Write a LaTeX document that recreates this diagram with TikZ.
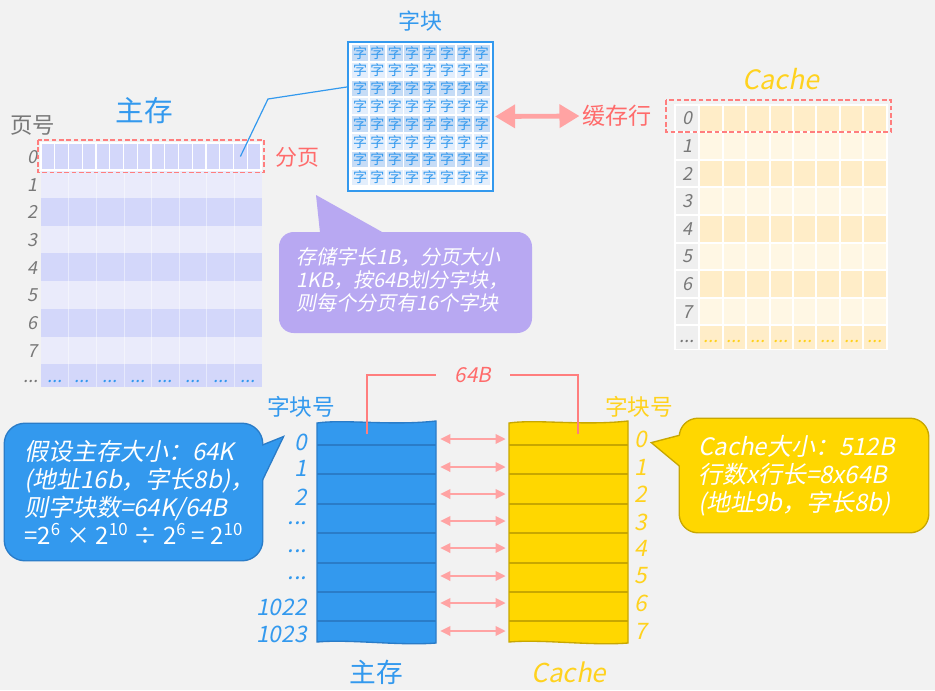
\documentclass[tikz,border=0pt]{standalone}
\usepackage{fontspec}
\setmainfont{Noto Sans CJK SC}
\newfontfamily\zhsl[FakeSlant=0.2]{Noto Sans CJK SC}
\usetikzlibrary{arrows.meta}
\definecolor{bg}{HTML}{F2F2F2}
\definecolor{mblue}{HTML}{3399EE}
\definecolor{mblueline}{HTML}{2A7CC8}
\definecolor{cgold}{HTML}{FFD700}
\definecolor{cgoldline}{HTML}{C8A700}
\definecolor{ctext}{HTML}{FFD21E}
\definecolor{hl}{HTML}{FF6B6B}
\definecolor{hlline}{HTML}{FF7E7E}
\definecolor{pinkarrow}{HTML}{FFA3A3}
\definecolor{numgray}{HTML}{787878}
\definecolor{pagedark}{HTML}{D3D7FA}
\definecolor{pagelight}{HTML}{EAEBFB}
\definecolor{linedark}{HTML}{FFEDC8}
\definecolor{linelight}{HTML}{FFF7E4}
\definecolor{labelgray}{HTML}{EFEFEF}
\definecolor{worddark}{HTML}{C6DCF6}
\definecolor{wordlight}{HTML}{E3EEFC}
\definecolor{notepurple}{HTML}{B8A8F2}
\newcommand\tridot{...}
\tikzset{heading/.style={inner sep=0pt, font=\fontsize{16.5}{16.5}\selectfont}}
\tikzset{idx/.style={inner sep=0pt, text=numgray, font=\zhsl\fontsize{13.5}{13.5}\selectfont}}
\tikzset{bigidx/.style={inner sep=0pt, font=\zhsl\fontsize{17}{17}\selectfont}}
\tikzset{pcell/.style={draw=white, line width=1.1pt, fill=pagedark, minimum width=10.3pt, minimum height=20.25pt, inner sep=0pt}}
\tikzset{wcell/.style={minimum width=11.6pt, minimum height=11.8pt, inner sep=0pt, text=mblue, font=\fontsize{10.5}{10.5}\selectfont}}
\tikzset{slot/.style={minimum width=89.25pt, minimum height=0pt, inner sep=0pt}}
\tikzset{pair/.style={pinkarrow, line width=1.7pt, arrows={Triangle[length=7.5pt,width=7pt]-Triangle[length=7.5pt,width=7pt]}, shorten <=3pt, shorten >=2.3pt}}
\tikzset{bigpair/.style={pinkarrow, line width=3.6pt, arrows={Triangle[length=15pt,width=17pt]-Triangle[length=15pt,width=17pt]}, shorten <=1pt, shorten >=2pt}}
\tikzset{frame/.style={hlline, line width=1.1pt, dash pattern=on 3.5pt off 2pt}}
\tikzset{bracket/.style={hlline, line width=1.1pt}}
\tikzset{link/.style={mblue, line width=0.9pt}}
\tikzset{note/.style={text=white, align=left, inner sep=0pt, font=\zhsl\fontsize{18}{21}\selectfont}}

\begin{document}
\begin{tikzpicture}[x=0.75pt, y=-0.75pt]
    \useasboundingbox (0,0) rectangle (935,690);
    \fill[bg] (0,0) rectangle (935,690);

    \foreach \rw in {1,...,8} {
        \ifodd\rw\def\rc{pagelight}\else\def\rc{pagedark}\fi
        \pgfmathsetmacro\ya{142.6+27.7*\rw}
        \pgfmathsetmacro\yb{min(142.6+27.7*(\rw+1),387)}
        \fill[\rc] (41,\ya) rectangle (262,\yb);
    }
    \foreach \c in {1,...,7}
        \draw[white, opacity=0.45, line width=0.5pt] (41+27.625*\c,170.3) -- (41+27.625*\c,387);
    \foreach \c in {0,...,15}
        \node[pcell] (p\c) at (41+13.75*\c+6.875,156.5) {};
    \foreach \rw in {0,...,7}
        \node[idx, anchor=east] (pn\rw) at (38,157+27.7*\rw) {\rw};
    \node[idx, anchor=east] (pndots) at (39,381) {\tridot};
    \foreach \c in {0,...,7}
        \node[idx, text=mblue] (pd\c) at (54.8+27.625*\c,381) {\tridot};
    \draw[frame] (38,140) rectangle (264,172.5);

    \node[heading, text=numgray, font=\fontsize{16.8}{16.8}\selectfont] (pagetag) at (33,125) {页号};
    \node[heading, text=mblue, font=\fontsize{21.5}{21.5}\selectfont] (mtitle) at (144,111) {主存};
    \node[heading, text=hl] (fenye) at (297,157) {分页};

    \node[draw=mblue, line width=1.1pt, fill=white, minimum width=108.75pt, minimum height=111.75pt, inner sep=0pt] (blk) at (420.5,116.5) {};
    \foreach \i in {0,...,7} {
        \ifodd\i\def\wc{wordlight}\else\def\wc{worddark}\fi
        \foreach \j in {0,...,7}
            \node[wcell, fill=\wc] (w\i\j) at (360+17.4*\j,52.8+17.8*\i) {字};
    }
    \node[heading, text=mblue] (wtitle) at (420,21) {字块};
    \coordinate (bend) at (268,99);
    \draw[link] (p14.center) -- (bend) -- (blk.158);

    \node[heading, text=hl, font=\fontsize{17.3}{17.3}\selectfont] (hang) at (617,116) {缓存行};
    \draw[bigpair] (blk.east) -- (hang.west);

    \fill[white] (674,104) rectangle (888,350);
    \foreach \rw in {0,...,8} {
        \ifodd\rw\def\rc{linelight}\else\def\rc{linedark}\fi
        \pgfmathsetmacro\ya{104.5+27.6*\rw}
        \pgfmathsetmacro\yb{min(104.5+27.6*(\rw+1),349.5)}
        \fill[labelgray] (676,\ya+1) rectangle (698.3,\yb-1);
        \foreach \c in {0,...,7}
            \fill[\rc] (699.3+23.43*\c+1,\ya+1) rectangle (699.3+23.43*\c+22.43,\yb-1);
    }
    \foreach \rw in {0,...,7}
        \node[idx] (cn\rw) at (687,118.5+27.6*\rw) {\rw};
    \node[idx] (cndots) at (687,341) {\tridot};
    \foreach \c in {0,...,7}
        \node[idx, text=ctext] (cd\c) at (711+23.43*\c,341) {\tridot};
    \draw[frame] (666,100) rectangle (891,132);
    \node[heading, text=ctext, font=\zhsl\fontsize{20}{20}\selectfont] (ctitle) at (781,79) {Cache};

    \fill[notepurple, rounded corners=11pt] (279,232) rectangle (532,333);
    \fill[notepurple] (321,242) -- (316,195) -- (400,242) -- cycle;
    \node[note, anchor=west, font=\zhsl\fontsize{15}{17.5}\selectfont] (pnote) at (296,280) {存储字长1B，分页大小\\1KB，按64B划分字块，\\则每个分页有16个字块};

    \draw[mblueline, line width=2.2pt, rounded corners=15pt] (5,424) rectangle (262,560);
    \draw[mblueline, line width=2.2pt] (252,450) -- (282,438) -- (253,498) -- cycle;
    \fill[mblue, rounded corners=15pt] (5,424) rectangle (262,560);
    \fill[mblue] (252,450) -- (282,438) -- (253,498) -- cycle;
    \node[note, anchor=west] (mnote) at (24,492) {假设主存大小：64K\\(地址16b，字长8b)，\\则字块数=64K/64B\\{\normalfont =2\textsuperscript{6} × 2\textsuperscript{10} ÷ 2\textsuperscript{6} = 2\textsuperscript{10}}};

    \draw[cgoldline, line width=2.2pt, rounded corners=13.5pt] (680,419) rectangle (928,532);
    \draw[cgoldline, line width=2.2pt] (695,432) -- (653,443) -- (695,478) -- cycle;
    \fill[cgold, rounded corners=13.5pt] (680,419) rectangle (928,532);
    \fill[cgold] (695,432) -- (653,443) -- (695,478) -- cycle;
    \node[note, anchor=west] (cnote) at (698,476) {Cache大小：512B\\行数x行长=8x64B\\(地址9b，字长8b)};

    \filldraw[fill=mblue, draw=mblueline, line width=1pt] (317,423) .. controls (345,419) and (390,426) .. (436,421) -- (436,643) .. controls (400,646) and (350,639) .. (317,642) -- cycle;
    \filldraw[fill=cgold, draw=cgoldline, line width=1pt] (509,423) .. controls (537,419) and (582,426) .. (628,421) -- (628,643) .. controls (592,646) and (542,639) .. (509,642) -- cycle;
    \foreach \y in {445,474,504,533,563,592,621} {
        \draw[mblueline, line width=1pt] (317,\y) -- (436,\y);
        \draw[cgoldline, line width=1pt] (509,\y) -- (628,\y);
    }

    \foreach \i/\y in {0/439,1/467,2/494,3/521,4/548,5/576,6/603,7/631} {
        \node[slot] (mr\i) at (376.5,\y) {};
        \node[slot] (cr\i) at (568.5,\y) {};
        \draw[pair] (mr\i.east) -- (cr\i.west);
    }

    \foreach \i/\y/\t in {0/442/0,1/468/1,2/497/2,3/523/\tridot,4/551/\tridot,5/578/\tridot,6/607/1022,7/634/1023}
        \node[bigidx, text=mblue, anchor=east] (mn\i) at (307,\y) {\t};
    \foreach \i/\y in {0/439,1/467,2/494,3/522,4/548,5/576,6/603,7/631}
        \node[bigidx, text=ctext, anchor=west] (cx\i) at (634,\y) {\i};

    \node[heading, text=mblue, font=\fontsize{17}{17}\selectfont] (mhead) at (301,407) {字块号};
    \node[heading, text=ctext, font=\fontsize{17}{17}\selectfont] (chead) at (639,407) {字块号};
    \node[heading, text=mblue, font=\fontsize{20}{20}\selectfont] (mlabel) at (376,672) {主存};
    \node[heading, text=ctext, font=\zhsl\fontsize{19.5}{19.5}\selectfont] (clabel) at (569,672) {Cache};

    \node[heading, text=hl, minimum width=54.75pt, font=\zhsl\fontsize{15.5}{15.5}\selectfont] (w64) at (473,375) {64B};
    \coordinate (mtick) at (367,434);
    \coordinate (ctick) at (578,434);
    \draw[bracket] (mtick) |- (w64.west);
    \draw[bracket] (ctick) |- (w64.east);
\end{tikzpicture}
\end{document}
